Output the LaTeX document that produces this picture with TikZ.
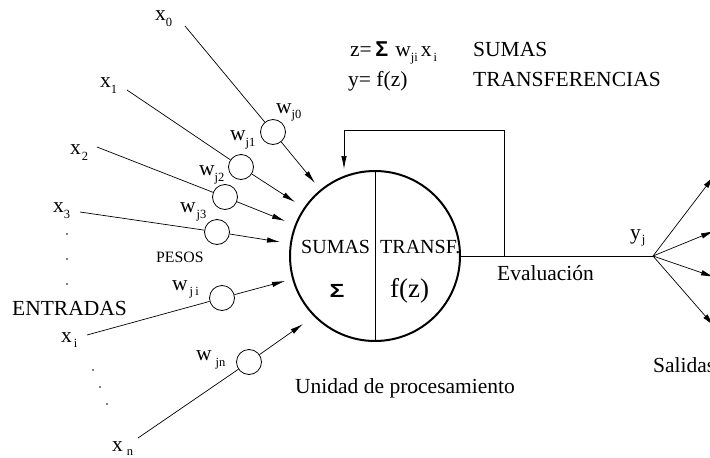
\documentclass[tikz,border=0pt]{standalone}
\usepackage{fontspec}
\setmainfont{Liberation Serif}
\newfontfamily\sansf{Liberation Sans}
\usetikzlibrary{arrows.meta}
\newcommand\lowsub[2][6pt]{\raisebox{-#1}{\fontsize{12.5}{13}\selectfont #2}}
\begin{document}
\begin{tikzpicture}[x=1pt,y=-1pt,
  lbl/.style={anchor=base west,inner sep=0pt,font=\fontsize{21.5}{24}\selectfont},
  inlbl/.style={anchor=base west,inner sep=0pt,font=\fontsize{20}{22}\selectfont},
  smalllbl/.style={anchor=base west,inner sep=0pt,font=\fontsize{15.8}{17}\selectfont},
  wgt/.style={circle,draw,line width=0.8pt,minimum size=25pt,inner sep=0pt},
  wire/.style={line width=0.7pt},
  arr/.style={wire,-{Latex[length=13pt,width=5.5pt]}},
  dotmark/.style={circle,fill,inner sep=0pt,minimum size=1.8pt}
]
\useasboundingbox (0,0) rectangle (710,458);

% processing unit
\node[circle,draw,line width=2pt,minimum size=170pt,inner sep=0pt] (unit) at (375,256) {};
\draw[wire] (unit.north) -- (unit.south);
\node[inlbl] (sumas) at (301,253) {SUMAS};
\node[inlbl] (transf) at (380,253) {TRANSF.};
\node[inner sep=0pt] (sigma) at (337,291) {\sansf\bfseries\fontsize{19}{20}\selectfont\scalebox{1.3}[1]{Σ}};
\node[anchor=base west,inner sep=0pt,font=\fontsize{27}{30}\selectfont] (fz) at (390,297) {f(z)};

% formula
\node[lbl] (f1) at (350,56) {z=\,{\sansf\bfseries Σ}\kern7pt w\lowsub[5pt]{ji}\kern3pt x\kern2pt\lowsub[5pt]{i}};
\node[lbl] (f2) at (348,86) {y= f(z)};
\node[lbl] (t1) at (473,56) {SUMAS};
\node[lbl] (t2) at (473,86) {TRANSFERENCIAS};

% output and feedback
\coordinate (yj) at (653,256);
\coordinate (fb) at (504,256);
\coordinate (fbtop) at (344,130);
\coordinate (fbend) at (344,169);
\draw[wire] (unit.east) -- (yj);
\draw[arr] (fb) |- (fbtop) -- (fbend);
\node[lbl] (ylab) at (630,239) {y\kern1pt\lowsub[4pt]{j}};
\coordinate (o1) at (714,176);
\coordinate (o2) at (714,231);
\coordinate (o3) at (714,277);
\coordinate (o4) at (714,326);
\foreach \o in {o1,o2,o3,o4} \draw[arr] (yj) -- (\o);

\node[lbl] (eval) at (497,280) {Evaluación};
\node[lbl] (unidad) at (295,393) {Unidad de procesamiento};
\node[lbl] (salidas) at (653,372) {Salidas};

% inputs
\node[lbl] (x0) at (155,20) {x\lowsub{0}};
\node[lbl] (x1) at (100,87) {x\lowsub{1}};
\node[lbl] (x2) at (70,154) {x\kern1pt\lowsub{2}};
\node[lbl] (x3) at (53,212) {x\lowsub{3}};
\node[lbl] (xi) at (61,342) {x\kern2pt\lowsub[5pt]{i}};
\node[lbl] (xn) at (112,451) {x\kern4pt\lowsub[4pt]{n}};

\node[lbl] (lw0) at (276,113) {w\lowsub[5pt]{j0}};
\node[lbl] (lw1) at (230,140) {w\lowsub[6pt]{j1}};
\node[lbl] (lw2) at (199,175) {w\lowsub[6pt]{j2}};
\node[lbl] (lw3) at (180,212) {w\kern1pt\lowsub[6pt]{j3}};
\node[lbl] (lwi) at (172,290) {w\kern2pt\lowsub[5pt]{j\,i}};
\node[lbl] (lwn) at (196,360) {w\kern4pt\lowsub[6pt]{jn}};

\node[smalllbl] (pesos) at (156,262) {PESOS};
\node[lbl] (entradas) at (12,315) {ENTRADAS};

\node[dotmark] (d1) at (67,234) {};
\node[dotmark] (d2) at (67,259) {};
\node[dotmark] (d3) at (67,284) {};
\node[dotmark] (d4) at (93,370) {};
\node[dotmark] (d5) at (100,387) {};
\node[dotmark] (d6) at (107,404) {};

\coordinate (s0) at (185,26);  \node[wgt] (w0) at (273,132) {}; \coordinate (e0) at (315,183);
\coordinate (s1) at (127,90);  \node[wgt] (w1) at (241,167) {}; \coordinate (e1) at (295,202);
\coordinate (s2) at (97,147);  \node[wgt] (w2) at (225,197) {}; \coordinate (e2) at (285,221);
\coordinate (s3) at (80,212);  \node[wgt] (w3) at (217,232) {}; \coordinate (e3) at (280,242);
\coordinate (si) at (87,335);  \node[wgt] (wi) at (222,298) {}; \coordinate (ei) at (285,281);
\coordinate (sn) at (138,438); \node[wgt] (wn) at (249,362) {}; \coordinate (en) at (303,324);
\foreach \k in {0,1,2,3,i,n}{
  \draw[wire] (s\k) -- (w\k);
  \draw[arr] (w\k) -- (e\k);
}
\end{tikzpicture}
\end{document}
